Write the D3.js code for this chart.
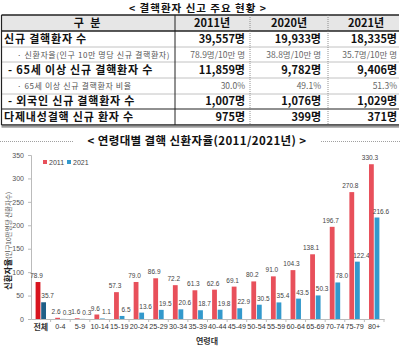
<!DOCTYPE html>
<html><head><meta charset="utf-8">
<script src="https://cdn.jsdelivr.net/npm/d3@7"></script>
<style>
html,body{margin:0;padding:0;background:#fff;}
svg{display:block;font-family:"Noto Sans CJK KR","Noto Sans",sans-serif;}
</style></head>
<body>
<svg id="c" width="400" height="347"></svg>
<script>
// ---------- table data ----------
const tableTitle = "< 결핵환자 신고 주요 현황 >";
const tableHeaders = ["구 분", "2011년", "2020년", "2021년"];
const rowLabels = [
  "신규 결핵환자 수",
  "· 신환자율(인구 10만 명당 신규 결핵환자)",
  "- 65세 이상 신규 결핵환자 수",
  "· 65세 이상 신규 결핵환자 비율",
  "- 외국인 신규 결핵환자 수",
  "다제내성결핵 신규 환자 수"
];
const rowIsSub = [false, true, false, true, false, false];
const values2011 = ["39,557명", "78.9명/10만 명", "11,859명", "30.0%", "1,007명", "975명"];
const values2020 = ["19,933명", "38.8명/10만 명", "9,782명", "49.1%", "1,076명", "399명"];
const values2021 = ["18,335명", "35.7명/10만 명", "9,406명", "51.3%", "1,029명", "371명"];

// ---------- chart data ----------
const chartTitle = "< 연령대별 결핵 신환자율(2011/2021년) >";
const categories = ["전체","0-4","5-9","10-14","15-19","20-24","25-29","30-34","35-39","40-44","45-49","50-54","55-59","60-64","65-69","70-74","75-79","80+"];
const seriesNames = ["2011", "2021"];
const rate2011 = [78.9,2.6,1.6,9.6,57.3,79.0,86.9,72.2,61.3,62.6,69.1,80.2,91.0,104.3,138.1,196.7,270.8,330.3];
const rate2021 = [35.7,0.3,0.3,1.1,6.5,13.6,19.5,20.6,18.7,19.8,22.9,30.5,35.4,43.5,50.3,78.0,122.4,216.6];
const yTicks = [0,50,100,150,200,250,300,350];
const yLabelMain = "신환자율";
const yLabelSub = "(인구10만명당 신환자수)";
const xLabel = "연령대";

const svg = d3.select("#c");

// ================= TABLE =================
svg.append("text").attr("x", 198).attr("y", 12)
  .attr("text-anchor", "middle").attr("font-size", 10.5).attr("font-weight", "bold")
  .attr("letter-spacing", 1).attr("fill", "#111").text(tableTitle);

const colX = [1.5, 175, 250, 328, 399];
const rowY = [15, 31, 47, 62, 78, 94, 109, 125];
const tbl = svg.append("g");

tbl.append("rect").attr("x", colX[0]).attr("y", rowY[0])
  .attr("width", colX[4] - colX[0]).attr("height", rowY[1] - rowY[0])
  .attr("fill", "#e6e6e6");

// horizontal lines
const hLines = [
  {y: rowY[0], dash: null, w: 1.3, c: "#222"},
  {y: rowY[1], dash: null, w: 1.3, c: "#222"},
  {y: rowY[2], dash: "1,1", w: 0.8, c: "#666"},
  {y: rowY[3], dash: "1,1", w: 0.8, c: "#666"},
  {y: rowY[4], dash: "1,1", w: 0.8, c: "#666"},
  {y: rowY[5], dash: "1,1", w: 0.8, c: "#666"},
  {y: rowY[6], dash: null, w: 1.2, c: "#222"},
  {y: rowY[7], dash: null, w: 1.3, c: "#222"}
];
tbl.selectAll("line.h").data(hLines).join("line")
  .attr("x1", colX[0]).attr("x2", colX[4]).attr("y1", d => d.y).attr("y2", d => d.y)
  .attr("stroke", d => d.c).attr("stroke-width", d => d.w)
  .attr("stroke-dasharray", d => d.dash);
tbl.append("rect").attr("x", colX[0]).attr("y", rowY[7] + 0.7)
  .attr("width", colX[4] - colX[0]).attr("height", 2).attr("fill", "#9a9a9a");
// vertical lines
tbl.append("line").attr("x1", colX[0]).attr("x2", colX[0]).attr("y1", rowY[0]).attr("y2", rowY[7]).attr("stroke", "#222").attr("stroke-width", 1.2);
tbl.append("line").attr("x1", colX[1]).attr("x2", colX[1]).attr("y1", rowY[0]).attr("y2", rowY[7]).attr("stroke", "#222").attr("stroke-width", 1);
[colX[2], colX[3]].forEach(x => {
  tbl.append("line").attr("x1", x).attr("x2", x).attr("y1", rowY[0]).attr("y2", rowY[7])
    .attr("stroke", "#777").attr("stroke-width", 0.8).attr("stroke-dasharray", "1,1");
});

// header
const headerCx = [88, 212, 289, 366];
tbl.selectAll("text.hd").data(tableHeaders).join("text")
  .attr("x", (d, i) => headerCx[i]).attr("y", 27)
  .attr("text-anchor", "middle").attr("font-size", 11).attr("font-weight", "bold")
  .attr("fill", "#111").attr("letter-spacing", (d, i) => i === 0 ? 2 : 0).text(d => d);

// rows
const rowBase = [43, 57.5, 74, 89, 105, 121];
rowLabels.forEach((lab, i) => {
  const sub = rowIsSub[i];
  const indent = sub ? 17 : (lab.startsWith("-") ? 8 : 4);
  tbl.append("text").attr("x", indent).attr("y", rowBase[i])
    .attr("font-size", sub ? 8 : 11).attr("font-weight", sub ? "normal" : "bold")
    .attr("letter-spacing", sub ? 0.6 : 0.8)
    .attr("fill", sub ? "#555" : "#111").text(lab);
});
const valueCols = [values2011, values2020, values2021];
const valueRight = [245, 321, 397];
valueCols.forEach((vals, c) => {
  vals.forEach((v, i) => {
    const sub = rowIsSub[i];
    tbl.append("text").attr("x", valueRight[c]).attr("y", rowBase[i])
      .attr("text-anchor", "end").attr("font-size", sub ? 8.5 : 11)
      .attr("font-weight", sub ? "normal" : "bold")
      .attr("fill", sub ? "#666" : "#111").text(v);
  });
});

// ================= CHART =================
svg.append("text").attr("x", 197).attr("y", 145)
  .attr("text-anchor", "middle").attr("font-size", 11.5).attr("font-weight", "bold")
  .attr("letter-spacing", 0.4).attr("fill", "#111").text(chartTitle);
svg.append("line").attr("x1", 0).attr("x2", 73).attr("y1", 141.5).attr("y2", 141.5)
  .attr("stroke", "#888").attr("stroke-width", 0.8).attr("stroke-dasharray", "1,1");
svg.append("line").attr("x1", 321).attr("x2", 400).attr("y1", 141.5).attr("y2", 141.5)
  .attr("stroke", "#888").attr("stroke-width", 0.8).attr("stroke-dasharray", "1,1");

const x0 = d3.scaleBand().domain(categories).range([31, 384]);
const x1 = d3.scaleBand().domain(seriesNames)
  .range([x0.bandwidth() / 2 - 5.2, x0.bandwidth() / 2 + 5.2]).paddingInner(0.14);
const y = d3.scaleLinear().domain([0, 350]).range([319, 155]);

const colorMain = {"2011": "#e8505b", "2021": "#3399cc"};
const colorTotal = {"2011": "#d9141e", "2021": "#1f5f87"};

// y axis
const yAxis = svg.append("g").attr("transform", "translate(31,0)")
  .call(d3.axisLeft(y).tickValues(yTicks).tickSize(3).tickPadding(4));
yAxis.select(".domain").attr("stroke", "#bbb");
yAxis.selectAll(".tick line").attr("stroke", "#bbb");
yAxis.selectAll(".tick text").attr("font-size", 7).attr("fill", "#555")
  .attr("font-family", "Liberation Sans, Arial, sans-serif");

// x axis
const xAxis = svg.append("g").attr("transform", "translate(0,319)")
  .call(d3.axisBottom(x0).tickSize(0).tickPadding(5));
xAxis.select(".domain").attr("stroke", "#bbb");
xAxis.selectAll(".tick text").attr("font-size", 7.2).attr("fill", "#333")
  .attr("font-family", "Liberation Sans, Arial, sans-serif")
  .attr("font-weight", d => d === "전체" ? "bold" : "normal")
  .filter(d => d === "전체").attr("font-family", "Noto Sans CJK KR").attr("font-size", 8);
// small boundary ticks
svg.append("g").selectAll("line").data(categories.slice(1).concat(["__end"])).join("line")
  .attr("x1", d => d === "__end" ? 384 : x0(d)).attr("x2", d => d === "__end" ? 384 : x0(d))
  .attr("y1", 319).attr("y2", 322).attr("stroke", "#bbb");

// bars
const rows = categories.map((c, i) => ({cat: c, vals: [
  {s: "2011", v: rate2011[i]}, {s: "2021", v: rate2021[i]}]}));
const groups = svg.append("g").selectAll("g").data(rows).join("g")
  .attr("transform", d => `translate(${x0(d.cat)},0)`);
groups.selectAll("rect").data(d => d.vals.map(v => ({...v, cat: d.cat}))).join("rect")
  .attr("x", d => x1(d.s)).attr("width", x1.bandwidth())
  .attr("y", d => y(d.v)).attr("height", d => y(0) - y(d.v))
  .attr("fill", d => d.cat === "전체" ? colorTotal[d.s] : colorMain[d.s]);
groups.selectAll("text").data(d => d.vals.map(v => ({...v, cat: d.cat}))).join("text")
  .attr("x", d => x1(d.s) + x1.bandwidth() / 2 + (d.s === "2011" ? -1.5 : 4))
  .attr("y", d => y(d.v) - 4)
  .attr("text-anchor", "middle").attr("font-size", 6.5).attr("fill", "#444")
  .attr("font-family", "Liberation Sans, Arial, sans-serif")
  .text(d => d.v.toFixed(1));

// legend
const lg = svg.append("g").attr("transform", "translate(43,162)");
seriesNames.forEach((s, i) => {
  const g = lg.append("g").attr("transform", `translate(${i * 24},0)`);
  g.append("rect").attr("x", 0).attr("y", -2).attr("width", 4).attr("height", 4).attr("fill", colorMain[s]);
  g.append("text").attr("x", 6).attr("y", 2.5).attr("font-size", 7).attr("fill", "#444")
    .attr("font-family", "Liberation Sans, Arial, sans-serif").text(s);
});

// axis titles
const yl = svg.append("text").attr("transform", "translate(11,241) rotate(-90)")
  .attr("text-anchor", "middle");
yl.append("tspan").attr("font-size", 8.5).attr("font-weight", "bold").attr("fill", "#222").text(yLabelMain);
yl.append("tspan").attr("font-size", 6.5).attr("fill", "#555").text(yLabelSub);
svg.append("text").attr("x", 207).attr("y", 344).attr("text-anchor", "middle")
  .attr("font-size", 8).attr("font-weight", "bold").attr("fill", "#333").text(xLabel);
</script>
</body></html>
